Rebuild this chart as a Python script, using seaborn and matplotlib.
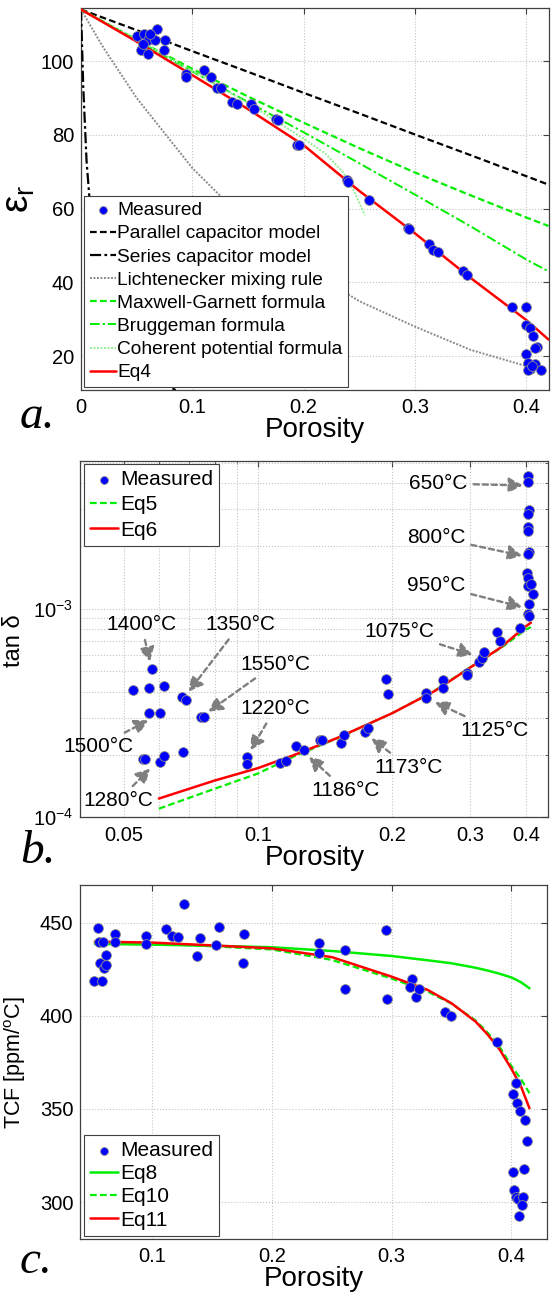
import matplotlib
matplotlib.use("Agg")
import matplotlib.pyplot as plt
from matplotlib.ticker import FixedLocator, NullFormatter, FuncFormatter
import seaborn as sns

# ── Panel a: permittivity vs porosity ─────────────────────────────────────────
A_MEAS_X = [0.0687, 0.0506, 0.057, 0.060, 0.0665, 0.0753, 0.0744, 0.0538, 0.060, 0.0554,
            0.0617, 0.094, 0.094, 0.1108, 0.1165, 0.1218, 0.126, 0.136, 0.14, 0.1525,
            0.1557, 0.1756, 0.1772, 0.194, 0.196, 0.239, 0.240, 0.259, 0.294, 0.295,
            0.313, 0.316, 0.321, 0.343, 0.347, 0.387, 0.400, 0.400, 0.403, 0.406,
            0.410, 0.408, 0.400, 0.402, 0.403, 0.408, 0.413, 0.402, 0.405]
A_MEAS_Y = [108.8, 106.8, 107.4, 105.6, 105.6, 105.8, 102.9, 102.9, 102.0, 104.7,
            107.4, 96.4, 95.8, 97.5, 95.7, 92.8, 92.8, 88.9, 88.3, 88.3,
            87.1, 84.4, 83.9, 77.2, 77.2, 67.7, 67.2, 62.3, 54.8, 54.4,
            50.3, 48.9, 48.3, 43.1, 41.9, 33.2, 33.2, 28.4, 27.5, 25.4,
            22.5, 22.1, 20.5, 18.2, 16.4, 18.0, 16.2, 16.2, 17.3]

A_MODEL_X = [0, 0.05, 0.1, 0.15, 0.2, 0.25, 0.3, 0.35, 0.4, 0.42]
A_PARALLEL = [114, 108.4, 102.7, 97.1, 91.4, 85.8, 80.1, 74.5, 68.8, 66.5]
A_MAXWELL = [114, 105.8, 97.9, 90.4, 83.3, 76.4, 69.8, 63.6, 57.6, 55.3]
A_BRUGGEMAN = [114, 105.6, 97.2, 88.9, 80.7, 72.3, 63.8, 55.2, 46.2, 43.0]
A_EQ4 = [114, 105.3, 96.2, 87.0, 77.2, 64.8, 53.3, 41.2, 29.8, 24.5]
A_LICHT_X = [0, 0.02, 0.05, 0.1, 0.15, 0.2, 0.25, 0.3, 0.35, 0.4]
A_LICHT = [114, 103.7, 90.0, 71.0, 56.0, 44.2, 34.9, 28.0, 21.7, 17.3]
A_SERIES_X = [0, 0.002, 0.005, 0.01, 0.02, 0.04, 0.06, 0.085]
A_SERIES = [114, 93.0, 72.8, 53.5, 35.0, 20.7, 14.7, 10.8]
A_COHER_X = [0, 0.05, 0.1, 0.15, 0.2, 0.22, 0.235, 0.245, 0.255]
A_COHER = [114, 106.0, 97.3, 88.6, 79.0, 74.8, 70.0, 65.0, 58.2]

# ── Panel b: loss tangent vs porosity (log-log) ───────────────────────────────
B_MEAS_X = [0.0526, 0.057, 0.058, 0.0617, 0.057, 0.0605, 0.0553, 0.0558, 0.0602, 0.0617,
            0.068, 0.0676, 0.069, 0.0747, 0.0758, 0.0947, 0.0947, 0.112, 0.116, 0.1218,
            0.1268, 0.1376, 0.1394, 0.1535, 0.156, 0.1745, 0.1766, 0.194, 0.196, 0.239,
            0.239, 0.2606, 0.2606, 0.2944, 0.2944, 0.314, 0.318, 0.322, 0.344, 0.349,
            0.387, 0.404, 0.404, 0.406, 0.405, 0.405, 0.404, 0.406, 0.404, 0.403,
            0.404, 0.404, 0.411, 0.415, 0.406, 0.404, 0.406]
B_MEAS_Y = [4.08e-4, 4.16e-4, 5.14e-4, 4.28e-4, 3.15e-4, 3.15e-4, 1.90e-4, 1.90e-4, 1.84e-4, 1.96e-4,
            2.06e-4, 3.79e-4, 3.66e-4, 3.04e-4, 3.03e-4, 1.95e-4, 1.81e-4, 1.83e-4, 1.86e-4, 2.19e-4,
            2.11e-4, 2.34e-4, 2.34e-4, 2.26e-4, 2.48e-4, 2.57e-4, 2.67e-4, 4.61e-4, 3.89e-4, 3.94e-4,
            3.75e-4, 4.56e-4, 4.16e-4, 4.91e-4, 4.79e-4, 5.55e-4, 5.80e-4, 6.21e-4, 7.72e-4, 7.03e-4,
            8.10e-4, 4.32e-3, 4.05e-3, 2.96e-3, 2.85e-3, 2.46e-3, 2.37e-3, 1.88e-3, 1.83e-3, 1.48e-3,
            1.41e-3, 1.29e-3, 1.31e-3, 1.17e-3, 1.05e-3, 9.4e-4, 9.2e-4]

B_EQ6_X = [0.06, 0.08, 0.1, 0.12, 0.15, 0.2, 0.25, 0.3, 0.35, 0.4, 0.41]
B_EQ6 = [1.23e-4, 1.50e-4, 1.72e-4, 1.98e-4, 2.39e-4, 3.15e-4, 4.04e-4, 5.23e-4, 6.49e-4, 8.25e-4, 8.56e-4]
B_EQ5_X = [0.06, 0.08, 0.1, 0.12, 0.15, 0.2, 0.25, 0.3, 0.35, 0.4, 0.41]
B_EQ5 = [1.10e-4, 1.37e-4, 1.62e-4, 1.95e-4, 2.38e-4, 3.15e-4, 4.06e-4, 5.25e-4, 6.45e-4, 7.95e-4, 8.16e-4]

B_ANN_TEXT = ["650°C", "800°C", "950°C", "1075°C", "1125°C", "1173°C", "1186°C",
              "1220°C", "1550°C", "1350°C", "1400°C", "1500°C", "1280°C"]
B_ANN_TEXT_X = [0.2545, 0.2513, 0.2513, 0.2075, 0.3396, 0.2183, 0.1578,
                0.1095, 0.1095, 0.0913, 0.0548, 0.0438, 0.0486]
B_ANN_TEXT_Y = [3.98e-3, 2.2e-3, 1.296e-3, 7.8e-4, 2.62e-4, 1.74e-4, 1.345e-4,
                3.33e-4, 5.43e-4, 8.4e-4, 8.4e-4, 2.18e-4, 1.2e-4]
B_ANN_TIP_X = [0.393, 0.3915, 0.3915, 0.3032, 0.25, 0.18, 0.1303,
               0.0964, 0.0775, 0.07005, 0.0573, 0.0568, 0.0573]
B_ANN_TIP_Y = [3.9e-3, 1.795e-3, 1.019e-3, 6.02e-4, 3.56e-4, 2.39e-4, 1.95e-4,
               2.1e-4, 3.21e-4, 4.01e-4, 5.59e-4, 2.92e-4, 1.71e-4]

# ── Panel c: TCF vs porosity ──────────────────────────────────────────────────
C_MEAS_X = [0.0517, 0.0581, 0.0546, 0.0552, 0.0587, 0.0567, 0.0611, 0.0596, 0.0611, 0.0685,
            0.0685, 0.0944, 0.0944, 0.1118, 0.1162, 0.1215, 0.1265, 0.1377, 0.1401, 0.1533,
            0.156, 0.1766, 0.1754, 0.2394, 0.2394, 0.2606, 0.2609, 0.2948, 0.2963, 0.3169,
            0.3151, 0.3199, 0.3228, 0.3446, 0.3493, 0.3882, 0.4036, 0.4015, 0.405, 0.4074,
            0.4112, 0.4133, 0.4015, 0.4103, 0.4021, 0.4036, 0.4053, 0.4094, 0.4088, 0.4065]
C_MEAS_Y = [418.7, 418.7, 447.3, 439.8, 439.8, 428.2, 432.7, 425.5, 427.3, 443.9,
            439.8, 443.0, 438.6, 446.4, 442.8, 442.5, 460.0, 432.1, 442.0, 438.0,
            447.9, 443.9, 428.5, 439.3, 433.9, 435.3, 414.2, 446.1, 408.9, 419.6,
            415.7, 410.0, 414.4, 401.9, 400.1, 386.2, 364.2, 358.1, 353.1, 349.0,
            344.2, 332.9, 316.1, 317.9, 306.6, 303.0, 301.6, 303.0, 298.6, 292.3]

C_FIT_X = [0.052, 0.1, 0.15, 0.2, 0.25, 0.3, 0.33, 0.35, 0.37, 0.38, 0.39, 0.4, 0.408, 0.415]
C_EQ8 = [438.6, 438.2, 437.6, 436.8, 434.8, 432.1, 429.8, 428.2, 425.8, 424.3, 422.6, 420.6, 418.0, 414.8]
C_EQ10 = [439.0, 438.8, 437.3, 435.6, 430.0, 420.0, 413.0, 406.5, 397.5, 391.0, 383.5, 373.0, 366.0, 358.5]
C_EQ11 = [439.8, 439.3, 437.8, 436.2, 431.5, 421.0, 413.9, 406.7, 396.9, 390.0, 382.0, 371.5, 362.0, 350.4]

BLUE = "#0000ff"
GREEN = "#00ee00"
RED = "#ff0000"
EDGE = "#8c8c8c"

sns.set_style("white")
plt.rcParams["font.family"] = ["Liberation Sans", "DejaVu Sans"]
plt.rcParams["mathtext.fontset"] = "custom"
plt.rcParams["mathtext.rm"] = "Liberation Sans"
plt.rcParams["mathtext.it"] = "Liberation Sans:italic"
for key in ("text.color", "axes.labelcolor", "xtick.labelcolor", "ytick.labelcolor"):
    plt.rcParams[key] = "black"

fig = plt.figure(figsize=(5.53, 12.92), dpi=100)
ax_a = fig.add_axes([0.1465, 0.6981, 0.8454, 0.2954])
ax_b = fig.add_axes([0.1454, 0.3674, 0.8463, 0.2760])
ax_c = fig.add_axes([0.1454, 0.0410, 0.8445, 0.2740])

TICK_FS = 14.5
LEG_KW = dict(frameon=True, fancybox=False, framealpha=1, edgecolor="#404040",
              borderpad=0.3, handlelength=1.35, handletextpad=0.1,
              borderaxespad=0.15, markerscale=0.8)


def style_axes(ax):
    for sp in ax.spines.values():
        sp.set_color("#404040")
        sp.set_linewidth(0.9)
    ax.tick_params(which="both", direction="in", top=True, right=True,
                   labelsize=TICK_FS, color="#404040")
    ax.tick_params(which="major", length=4)
    ax.tick_params(which="minor", length=2)
    ax.tick_params(axis="x", pad=6)
    ax.tick_params(axis="y", pad=5)


def measured(ax, x, y):
    sns.scatterplot(x=x, y=y, ax=ax, s=50, color=BLUE, edgecolor=EDGE,
                    linewidth=0.6, zorder=4, label="Measured")


def curve(ax, x, y, color, ls, lw, label):
    sns.lineplot(x=x, y=y, ax=ax, color=color, linestyle=ls, linewidth=lw,
                 label=label, sort=False, estimator=None, zorder=3)


def ordered_legend(ax, order, loc, fs, spacing, **kw):
    handles, labels = ax.get_legend_handles_labels()
    lookup = dict(zip(labels, handles))
    leg = ax.legend([lookup[k] for k in order], order, loc=loc, fontsize=fs,
                    labelspacing=spacing, **LEG_KW, **kw)
    leg.get_frame().set_linewidth(0.8)
    leg.set_zorder(10)
    return leg


# ── a ──
curve(ax_a, A_MODEL_X, A_PARALLEL, "black", (0, (3, 1.5)), 1.6, "Parallel capacitor model")
curve(ax_a, A_SERIES_X, A_SERIES, "black", (0, (5, 1.5, 1.2, 1.5)), 1.6, "Series capacitor model")
curve(ax_a, A_LICHT_X, A_LICHT, "#8a8a8a", (0, (1, 0.8)), 1.4, "Lichtenecker mixing rule")
curve(ax_a, A_MODEL_X, A_MAXWELL, GREEN, (0, (3, 1.5)), 1.6, "Maxwell-Garnett formula")
curve(ax_a, A_MODEL_X, A_BRUGGEMAN, GREEN, (0, (5, 1.5, 1.2, 1.5)), 1.4, "Bruggeman formula")
curve(ax_a, A_COHER_X, A_COHER, "#90f090", (0, (1, 0.8)), 1.4, "Coherent potential formula")
curve(ax_a, A_MODEL_X, A_EQ4, RED, "-", 1.8, "Eq4")
measured(ax_a, A_MEAS_X, A_MEAS_Y)
ax_a.set_xlim(0, 0.42)
ax_a.set_ylim(10.8, 114.3)
ax_a.set_xticks([0, 0.1, 0.2, 0.3, 0.4])
ax_a.set_yticks([20, 40, 60, 80, 100])
ax_a.xaxis.set_major_formatter(FuncFormatter(lambda v, p: f"{v:g}"))
ax_a.grid(True, linestyle=":", color="#c4c4c4", linewidth=0.8)
style_axes(ax_a)
ax_a.set_xlabel("Porosity", fontsize=20, labelpad=0)
ax_a.set_ylabel("ε$_\\mathregular{r}$", fontsize=28, labelpad=0)
ax_a.yaxis.set_label_coords(-0.094, 0.5)
ordered_legend(ax_a, ["Measured", "Parallel capacitor model", "Series capacitor model",
                      "Lichtenecker mixing rule", "Maxwell-Garnett formula",
                      "Bruggeman formula", "Coherent potential formula", "Eq4"],
               "lower left", 13.8, 0.3, bbox_to_anchor=(0.0, 0.0))

# ── b ──
curve(ax_b, B_EQ5_X, B_EQ5, GREEN, (0, (3, 1.5)), 1.6, "Eq5")
curve(ax_b, B_EQ6_X, B_EQ6, RED, "-", 1.8, "Eq6")
measured(ax_b, B_MEAS_X, B_MEAS_Y)
ax_b.set_xscale("log")
ax_b.set_yscale("log")
ax_b.set_xlim(0.04, 0.449)
ax_b.set_ylim(1e-4, 5.12e-3)
ax_b.xaxis.set_major_locator(FixedLocator([0.05, 0.1, 0.2, 0.3, 0.4]))
ax_b.xaxis.set_major_formatter(FuncFormatter(lambda v, p: f"{v:g}"))
ax_b.xaxis.set_minor_locator(FixedLocator([0.04, 0.06, 0.07, 0.08, 0.09]))
ax_b.xaxis.set_minor_formatter(NullFormatter())
ax_b.yaxis.set_minor_formatter(NullFormatter())
ax_b.grid(True, which="both", linestyle=":", color="#c4c4c4", linewidth=0.8)
style_axes(ax_b)
ax_b.set_xlabel("Porosity", fontsize=20, labelpad=0)
ax_b.set_ylabel("tan δ", fontsize=17)
ax_b.yaxis.set_label_coords(-0.119, 0.495)
for txt, tx, ty, px, py in zip(B_ANN_TEXT, B_ANN_TEXT_X, B_ANN_TEXT_Y, B_ANN_TIP_X, B_ANN_TIP_Y):
    ax_b.annotate(txt, xy=(px, py), xytext=(tx, ty), ha="center", va="center",
                  fontsize=15, zorder=6,
                  arrowprops=dict(arrowstyle="-|>,head_length=0.55,head_width=0.3",
                                  color="#7f7f7f", lw=1.7, linestyle=(0, (2.2, 1.6)),
                                  shrinkA=2, shrinkB=0))
ordered_legend(ax_b, ["Measured", "Eq5", "Eq6"], "upper left", 15, 0.3,
               bbox_to_anchor=(0.0, 1.0))

# ── c ──
curve(ax_c, C_FIT_X, C_EQ8, GREEN, "-", 1.8, "Eq8")
curve(ax_c, C_FIT_X, C_EQ10, GREEN, (0, (3, 1.5)), 1.6, "Eq10")
curve(ax_c, C_FIT_X, C_EQ11, RED, "-", 1.8, "Eq11")
measured(ax_c, C_MEAS_X, C_MEAS_Y)
ax_c.set_xlim(0.04, 0.43)
ax_c.set_ylim(280.2, 470.2)
ax_c.set_xticks([0.1, 0.2, 0.3, 0.4])
ax_c.set_yticks([300, 350, 400, 450])
ax_c.grid(True, linestyle=":", color="#c4c4c4", linewidth=0.8)
style_axes(ax_c)
ax_c.set_xlabel("Porosity", fontsize=20, labelpad=0)
ax_c.set_ylabel("TCF [ppm/$^\\mathregular{o}$C]", fontsize=15.5)
ax_c.yaxis.set_label_coords(-0.112, 0.498)
ordered_legend(ax_c, ["Measured", "Eq8", "Eq10", "Eq11"], "lower left", 15, 0.2,
               bbox_to_anchor=(0.0, 0.0))

# ── panel letters ──
for letter, ypix in [("a.", 428), ("b.", 863), ("c.", 1273)]:
    fig.text(20 / 553, 1 - ypix / 1292, letter, fontsize=34, family="Liberation Serif",
             style="italic", ha="left", va="baseline")

fig.savefig("out.png", dpi=100)
